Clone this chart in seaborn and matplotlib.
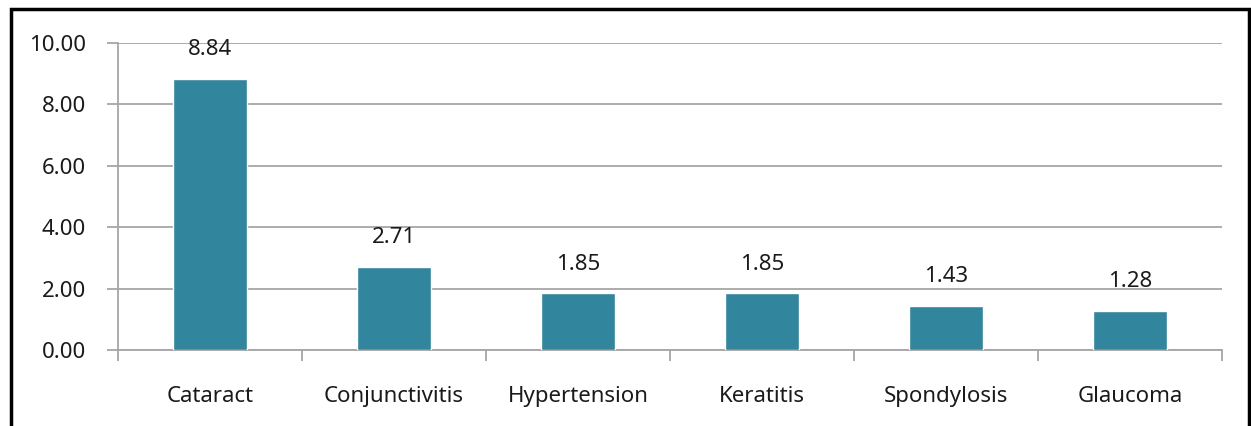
import matplotlib
matplotlib.use("Agg")
import matplotlib.pyplot as plt
import seaborn as sns
import pandas as pd
from matplotlib.patches import Rectangle

categories = ["Cataract", "Conjunctivitis", "Hypertension", "Keratitis", "Spondylosis", "Glaucoma"]
values = [8.84, 2.71, 1.85, 1.85, 1.43, 1.28]
yticks = [0, 2, 4, 6, 8, 10]

df = pd.DataFrame({"cat": categories, "val": values})

sns.set_style("white")
plt.rcParams['font.family'] = ['Noto Sans', 'DejaVu Sans']
plt.rcParams['font.weight'] = 'light'

W, H = 1251, 426
fig = plt.figure(figsize=(W / 100, H / 100), dpi=100)
ax = fig.add_axes([118 / W, 1 - 350 / H, (1222 - 118) / W, (350 - 43) / H])

grid_c = "#A6A6A6"
txt_c = "#1a1a1a"
fs = 16
sns.barplot(data=df, x="cat", y="val", color="#31859C", width=0.40, ax=ax,
            saturation=1, zorder=3)

ax.set_xlim(-0.5, len(categories) - 0.5)
ax.set_ylim(0, 10)
ax.set_yticks(yticks)
ax.set_yticklabels([f"{t:.2f}" for t in yticks])
ax.yaxis.grid(True, color=grid_c, linewidth=1.3, zorder=0)
ax.set_axisbelow(True)
ax.set_xlabel("")
ax.set_ylabel("")

for s in ["top", "right"]:
    ax.spines[s].set_visible(False)
for s in ["left", "bottom"]:
    ax.spines[s].set_color(grid_c)
    ax.spines[s].set_linewidth(1.3)

# x ticks at category boundaries
ax.set_xticks([i + 0.5 for i in range(-1, len(categories))], minor=False)
ax.set_xticklabels([])
ax.set_xticks(range(len(categories)), minor=True)
ax.set_xticklabels(categories, minor=True)
ax.tick_params(axis="x", which="major", direction="out", length=8, width=1.3, color=grid_c, bottom=True)
ax.tick_params(axis="x", which="minor", length=0, pad=26, labelsize=fs, labelcolor=txt_c)
ax.tick_params(axis="y", direction="out", length=8, width=1.3, color=grid_c, left=True,
               labelsize=fs, pad=15, labelcolor=txt_c)

for i, v in enumerate(values):
    ax.annotate(f"{v:.2f}", (i, v), xytext=(0, 17), textcoords="offset points",
                ha="center", va="baseline", fontsize=fs, color=txt_c, zorder=5)

fig.patches.append(Rectangle((11 / W, -0.1), (1248.5 - 11) / W, 1.1 - 8.5 / H,
                             transform=fig.transFigure, fill=False,
                             edgecolor="black", linewidth=2.5, zorder=10))

fig.savefig("out.png", dpi=100, facecolor="white")
